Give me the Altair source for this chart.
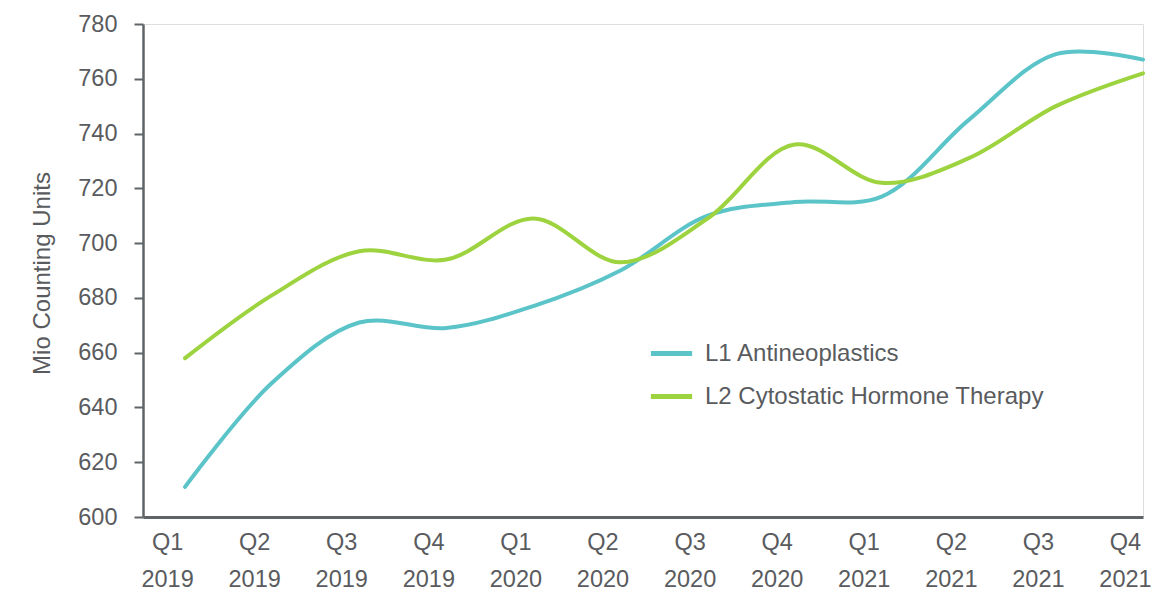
import json
import altair as alt
import pandas as pd

quarters = ["Q1", "Q2", "Q3", "Q4", "Q1", "Q2", "Q3", "Q4", "Q1", "Q2", "Q3", "Q4"]
years = ["2019", "2019", "2019", "2019", "2020", "2020", "2020", "2020", "2021", "2021", "2021", "2021"]
l1 = [611, 649, 671, 669, 677, 690, 710, 715, 717, 745, 769, 767]
l2 = [658, 681, 697, 694, 709, 693, 709, 736, 722, 731, 750, 762]
series = ["L1 Antineoplastics", "L2 Cytostatic Hormone Therapy"]
colors = ["#5BC4C8", "#9DD33F"]

rows = []
for i in range(len(quarters)):
    rows.append({"idx": i, "value": l1[i], "series": series[0]})
    rows.append({"idx": i, "value": l2[i], "series": series[1]})
df = pd.DataFrame(rows)

text_color = "#595B5E"
axis_color = "#5F6468"
font = "Liberation Sans"

label_expr = f"[{json.dumps(quarters)}[datum.value], {json.dumps(years)}[datum.value]]"

chart = alt.Chart(df).mark_line(
    interpolate="catmull-rom", strokeWidth=4, strokeCap="round"
).encode(
    x=alt.X(
        "idx:Q",
        scale=alt.Scale(domain=[-0.483, 11], nice=False, zero=False),
        axis=alt.Axis(
            values=list(range(12)),
            labelExpr=label_expr,
            title=None,
            grid=False,
            ticks=False,
            domainColor=axis_color,
            domainWidth=3,
            labelColor=text_color,
            labelFont=font,
            labelFontSize=23.5,
            labelLineHeight=37,
            labelPadding=13,
            labelOffset=-18,
            labelBaseline="top",
            labelFlush=False,
            labelOverlap=False,
        ),
    ),
    y=alt.Y(
        "value:Q",
        scale=alt.Scale(domain=[600, 780], nice=False, zero=False),
        axis=alt.Axis(
            values=list(range(600, 781, 20)),
            title="Mio Counting Units",
            titleFont=font,
            titleFontSize=24,
            titleFontWeight="normal",
            titleColor=text_color,
            titleX=-101,
            titleY=249,
            titleAngle=270,
            titleAlign="center",
            titleBaseline="middle",
            grid=False,
            tickSize=9,
            tickColor=axis_color,
            tickWidth=2,
            domainColor=axis_color,
            domainWidth=2.5,
            labelColor=text_color,
            labelFont=font,
            labelFontSize=23.5,
            labelPadding=17,
        ),
    ),
    color=alt.Color(
        "series:N",
        scale=alt.Scale(domain=series, range=colors),
        legend=alt.Legend(
            title=None,
            orient="none",
            legendX=505,
            legendY=306,
            symbolType="stroke",
            symbolStrokeWidth=5,
            symbolSize=1700,
            labelFont=font,
            labelFontSize=24,
            labelColor=text_color,
            labelLimit=0,
            rowPadding=7,
            labelOffset=10,
        ),
    ),
).properties(
    width=1000,
    height=493,
    autosize=alt.AutoSizeParams(type="none"),
    padding={"left": 143, "top": 24, "right": 29, "bottom": 76},
).configure_view(stroke=None).configure(background="white")

chart.save("out.html", embed_options={"renderer": "svg", "actions": False})
